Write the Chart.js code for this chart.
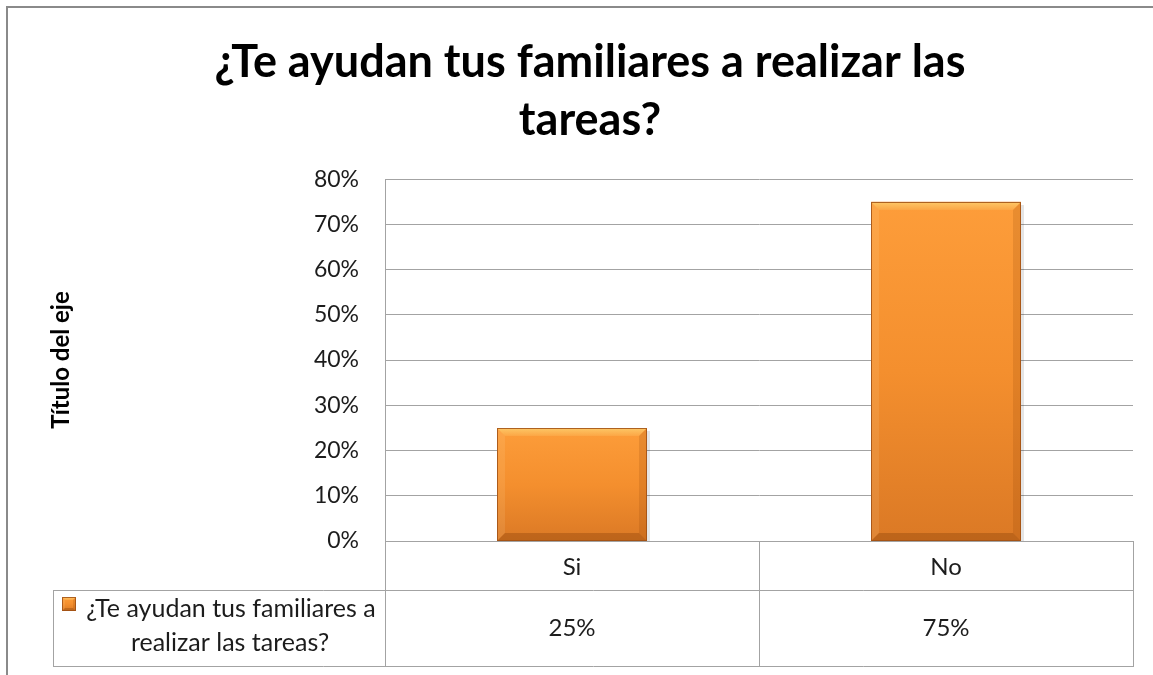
<!DOCTYPE html>
<html><head><meta charset="utf-8">
<script src="https://cdn.jsdelivr.net/npm/chart.js@4.4.1/dist/chart.umd.min.js"></script>
<style>html,body{margin:0;padding:0;background:#fff;overflow:hidden}#wrap{width:1153px;height:675px;position:relative}</style>
</head><body><div id="wrap"><canvas id="c" width="1153" height="675"></canvas></div>
<script>
// ---- data ----
const categories = ['Si', 'No'];
const seriesName = '¿Te ayudan tus familiares a realizar las tareas?';
const legendLines = ['¿Te ayudan tus familiares a', 'realizar las tareas?'];
const values = [0.25, 0.75];
const valueLabels = ['25%', '75%'];
const titleLines = ['¿Te ayudan tus familiares a realizar las', 'tareas?'];
const yAxisTitle = 'Título del eje';
const yTickLabels = ['0%', '10%', '20%', '30%', '40%', '50%', '60%', '70%', '80%'];
const yMin = 0, yMax = 0.8, yStep = 0.1;

const FONT = 'Lato';
const GRID = '#a3a3a3';
const TXT = '#1c1c1c';

function poly(ctx, pts, fill) {
  ctx.beginPath();
  ctx.moveTo(pts[0][0], pts[0][1]);
  for (let i = 1; i < pts.length; i++) ctx.lineTo(pts[i][0], pts[i][1]);
  ctx.closePath();
  ctx.fillStyle = fill;
  ctx.fill();
}
function bevelBox(ctx, l, t, r, b, s) {
  const g = ctx.createLinearGradient(0, t, 0, b);
  g.addColorStop(0, '#FD9D3A');
  g.addColorStop(0.5, '#F48F2E');
  g.addColorStop(1, '#DB7925');
  ctx.fillStyle = g;
  ctx.fillRect(l, t, r - l, b - t);
  const gt = ctx.createLinearGradient(0, t, 0, t + s);
  gt.addColorStop(0, '#FDC867');
  gt.addColorStop(1, '#FCA645');
  poly(ctx, [[l, t], [r, t], [r - s, t + s], [l + s, t + s]], gt);
  poly(ctx, [[l, t], [l + s, t + s], [l + s, b - s], [l, b]], 'rgba(255,230,180,0.12)');
  poly(ctx, [[r, t], [r, b], [r - s, b - s], [r - s, t + s]], 'rgba(130,55,0,0.16)');
  poly(ctx, [[l, b], [r, b], [r - s, b - s], [l + s, b - s]], 'rgba(110,45,0,0.28)');
  ctx.strokeStyle = 'rgba(160,80,20,0.85)';
  ctx.lineWidth = 1;
  ctx.strokeRect(l + 0.5, t + 0.5, r - l - 1, b - t - 1);
}

const barBevel = {
  id: 'barBevel',
  afterDatasetsDraw(chart) {
    const ctx = chart.ctx;
    const meta = chart.getDatasetMeta(0);
    ctx.save();
    meta.data.forEach(bar => {
      const p = bar.getProps(['x', 'y', 'base', 'width'], true);
      const l = Math.round(p.x - p.width / 2), r = Math.round(p.x + p.width / 2);
      const t = Math.round(p.y), b = Math.round(p.base);
      ctx.fillStyle = 'rgba(0,0,0,0.10)';
      ctx.fillRect(r, t + 3, 3, b - t - 3);
      bevelBox(ctx, l, t, r, b, 8);
    });
    ctx.restore();
  }
};

const dataTable = {
  id: 'dataTable',
  afterDraw(chart) {
    const ctx = chart.ctx;
    const x = chart.scales.x;
    const ca = chart.chartArea;
    const n = categories.length;
    const bounds = [x.left];
    for (let i = 0; i < n - 1; i++) bounds.push(Math.round((x.getPixelForValue(i) + x.getPixelForValue(i + 1)) / 2));
    bounds.push(x.right);
    const row1 = ca.bottom + 49;
    const row2 = x.bottom;
    const legLeft = 53;
    const al = v => Math.round(v) + 0.5;
    ctx.save();
    ctx.strokeStyle = GRID;
    ctx.lineWidth = 1;
    ctx.beginPath();
    bounds.forEach(bx => { ctx.moveTo(al(bx), ca.bottom); ctx.lineTo(al(bx), row2); });
    ctx.moveTo(al(legLeft), row1); ctx.lineTo(al(legLeft), row2);
    ctx.moveTo(legLeft, al(row1)); ctx.lineTo(x.right + 1, al(row1));
    ctx.moveTo(legLeft, al(row2)); ctx.lineTo(x.right + 1, al(row2));
    ctx.stroke();

    ctx.fillStyle = TXT;
    ctx.font = '24px ' + FONT;
    ctx.textAlign = 'center';
    ctx.textBaseline = 'middle';
    const vy = (row1 + row2) / 2;
    valueLabels.forEach((lab, i) => ctx.fillText(lab, x.getPixelForValue(i), vy));

    bevelBox(ctx, 62, 597, 76, 611, 3);
    ctx.fillStyle = TXT;
    ctx.font = '25px ' + FONT;
    ctx.fillText(legendLines[0], 231, 609);
    ctx.fillText(legendLines[1], 230, 643);

    ctx.strokeStyle = '#8a8a8a';
    ctx.lineWidth = 2;
    ctx.beginPath();
    ctx.moveTo(7, 675); ctx.lineTo(7, 7); ctx.lineTo(1153, 7);
    ctx.stroke();
    ctx.restore();
  }
};

new Chart(document.getElementById('c'), {
  type: 'bar',
  data: {
    labels: categories,
    datasets: [{
      label: seriesName,
      data: values,
      backgroundColor: '#F48F2E',
      borderWidth: 0,
      barPercentage: 0.4,
      categoryPercentage: 1.0
    }]
  },
  options: {
    responsive: false,
    animation: false,
    devicePixelRatio: 1,
    layout: { padding: { left: 47, right: 20, top: 0, bottom: 9 } },
    plugins: {
      legend: { display: false },
      tooltip: { enabled: false },
      title: {
        display: true,
        text: titleLines,
        color: '#000',
        font: { family: FONT, size: 45, weight: 'bold', lineHeight: 1.29 },
        padding: { top: 33, bottom: 30 }
      }
    },
    scales: {
      x: {
        grid: { display: false, drawTicks: false },
        border: { display: false },
        ticks: { color: TXT, font: { family: FONT, size: 24 }, padding: 12 },
        afterFit(s) { s.height = 125; }
      },
      y: {
        min: yMin, max: yMax,
        grid: { color: GRID, drawTicks: false, lineWidth: 1 },
        border: { display: true, color: GRID },
        ticks: {
          stepSize: yStep, color: TXT, padding: 26,
          font: { family: FONT, size: 23 },
          callback: (v, i) => yTickLabels[i]
        },
        title: {
          display: true, text: yAxisTitle, color: '#000',
          font: { family: FONT, size: 24, weight: 'bold' },
          padding: 0
        },
        afterFit(s) { s.width = 385 - 47; }
      }
    }
  },
  plugins: [barBevel, dataTable]
});
</script></body></html>
